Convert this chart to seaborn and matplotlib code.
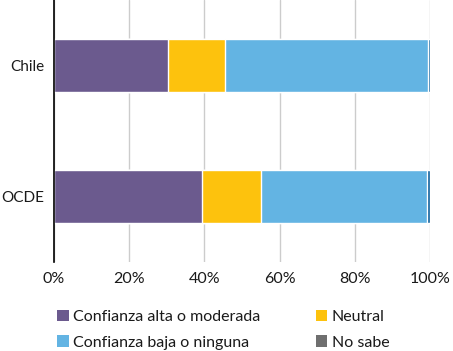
import numpy as np
import pandas as pd
import matplotlib
matplotlib.use("Agg")
import matplotlib.pyplot as plt
from matplotlib.patches import Patch
import seaborn as sns

# datos (porcentajes)
paises = ["Chile", "OCDE"]
alta = [30.3, 39.3]
neutral = [15.3, 15.9]
baja = [53.9, 43.9]
no_sabe = [0.5, 0.9]

categorias = ["Confianza alta o moderada", "Neutral", "Confianza baja o ninguna", "No sabe"]
colores = ["#6B5A8E", "#FDC20D", "#63B4E3", "#0B5E9B"]
colores_leyenda = ["#6B5A8E", "#FDC20D", "#63B4E3", "#6F6F6F"]

df = pd.DataFrame({"pais": paises, categorias[0]: alta, categorias[1]: neutral,
                   categorias[2]: baja, categorias[3]: no_sabe})
acum = df[categorias].cumsum(axis=1)
acum["pais"] = df["pais"]

sns.set_style("white")
plt.rcParams['font.family'] = ['Lato', 'DejaVu Sans']

fig = plt.figure(figsize=(4.53, 3.51), dpi=100)
ax = fig.add_axes([0.119, 0.2536, 0.83, 0.7464])

# barras apiladas: dibujo del acumulado mayor al menor
for cat, col in zip(categorias[::-1], colores[::-1]):
    sns.barplot(data=acum, x=cat, y="pais", orient="h", color=col,
                width=0.4, ax=ax, saturation=1, zorder=2)

ax.set_xlim(0, 100)
ax.set_ylim(1.5, -0.5)
ax.set_xticks([0, 20, 40, 60, 80, 100])
ax.set_xticklabels([f"{v}%" for v in [0, 20, 40, 60, 80, 100]], fontsize=11.5, color="#1a1a1a")
ax.tick_params(axis="y", labelsize=11, labelcolor="#1a1a1a", length=0, pad=7)
ax.tick_params(axis="x", length=0, pad=7)
ax.set_xlabel("")
ax.set_ylabel("")
ax.grid(axis="x", color="#CCCCCC", linewidth=1, zorder=0)
ax.set_axisbelow(True)
for s in ["top", "right", "bottom"]:
    ax.spines[s].set_visible(False)
ax.spines["left"].set_color("black")
ax.spines["left"].set_linewidth(1.2)
ax.spines["left"].set_zorder(5)

handles = [Patch(facecolor=c, edgecolor="none") for c in colores_leyenda]
orden = [0, 2, 1, 3]
fig.legend([handles[i] for i in orden], [categorias[i] for i in orden],
           loc="upper left", bbox_to_anchor=(0.108, 0.14), ncol=2, frameon=False,
           fontsize=11.5, handlelength=0.73, handleheight=0.73, handletextpad=0.29,
           columnspacing=3.45, labelspacing=0.69, borderpad=0, labelcolor="#1a1a1a")

fig.savefig("out.png", dpi=100)
